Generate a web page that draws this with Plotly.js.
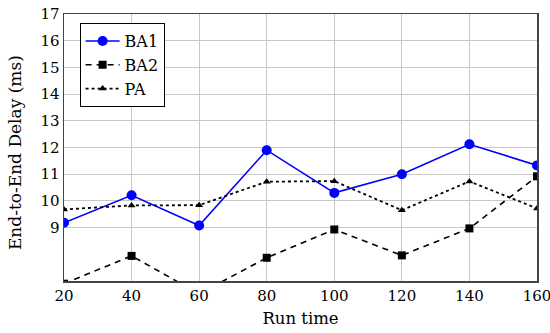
<!DOCTYPE html>
<html><head><meta charset="utf-8">
<script src="https://cdn.plot.ly/plotly-3.0.1.min.js"></script>
<style>html,body{margin:0;padding:0;background:#fff}</style>
</head><body>
<div id="chart" style="width:550px;height:333px"></div>
<script>
const runTime = [20, 40, 60, 80, 100, 120, 140, 160];
const ba1 = [9.18, 10.21, 9.08, 11.9, 10.3, 11.0, 12.12, 11.33];
const ba2 = [6.9, 7.94, 6.52, 7.87, 8.93, 7.96, 8.97, 10.92];
const pa  = [9.68, 9.83, 9.84, 10.72, 10.74, 9.65, 10.73, 9.72];
const yTicks = [9, 10, 11, 12, 13, 14, 15, 16, 17];
const yTitle = "End-to-End Delay (ms)";
const xTitle = "Run time";

const FONT = "DejaVu Serif";
const traces = [
  {x: runTime, y: ba1, name: "BA1", mode: "lines+markers",
   line: {color: "#0000ff", width: 1.6},
   marker: {symbol: "circle", size: 10, color: "#0000ff"}},
  {x: runTime, y: ba2, name: "BA2", mode: "lines+markers",
   line: {color: "#000000", width: 1.6, dash: "6px,5px"},
   marker: {symbol: "square", size: 8, color: "#000000"}},
  {x: runTime, y: pa, name: "PA", mode: "lines+markers",
   line: {color: "#000000", width: 1.8, dash: "dot"},
   marker: {symbol: "triangle-up", size: 7, color: "#000000"}}
];
const layout = {
  width: 550, height: 333,
  margin: {l: 64, r: 13, t: 14, b: 52},
  paper_bgcolor: "#fff", plot_bgcolor: "#fff",
  font: {family: FONT, size: 15, color: "#000"},
  showlegend: true,
  legend: {x: 0.033, y: 0.966, xanchor: "left", yanchor: "top",
    bordercolor: "#000", borderwidth: 1, bgcolor: "#fff",
    font: {family: FONT, size: 16, color: "#000"}, itemwidth: 34, tracegroupgap: 0},
  xaxis: {range: [20, 160], tickvals: runTime, ticktext: runTime.map(String),
    tickfont: {family: FONT, size: 15, color: "#000"},
    showgrid: true, gridcolor: "#c8c8c8", gridwidth: 1,
    showline: true, linecolor: "#444", linewidth: 1.5, mirror: true,
    ticks: "", zeroline: false, ticklabeloverflow: "allow",
    title: {text: xTitle, font: {family: FONT, size: 16.5, color: "#000"}, standoff: 9}},
  yaxis: {range: [7, 17], tickvals: yTicks, ticktext: yTicks.map(String),
    tickfont: {family: FONT, size: 15, color: "#000"},
    showgrid: true, gridcolor: "#c8c8c8", gridwidth: 1,
    showline: true, linecolor: "#444", linewidth: 1.5, mirror: true,
    ticks: "", zeroline: false},
  annotations: [{text: yTitle, xref: "paper", yref: "paper", x: -0.1036, y: 0.483,
    xanchor: "center", yanchor: "middle", textangle: -90, showarrow: false,
    font: {family: FONT, size: 17, color: "#000"}}]
};
Plotly.newPlot("chart", traces, layout, {displayModeBar: false, staticPlot: true});
</script>
</body></html>
